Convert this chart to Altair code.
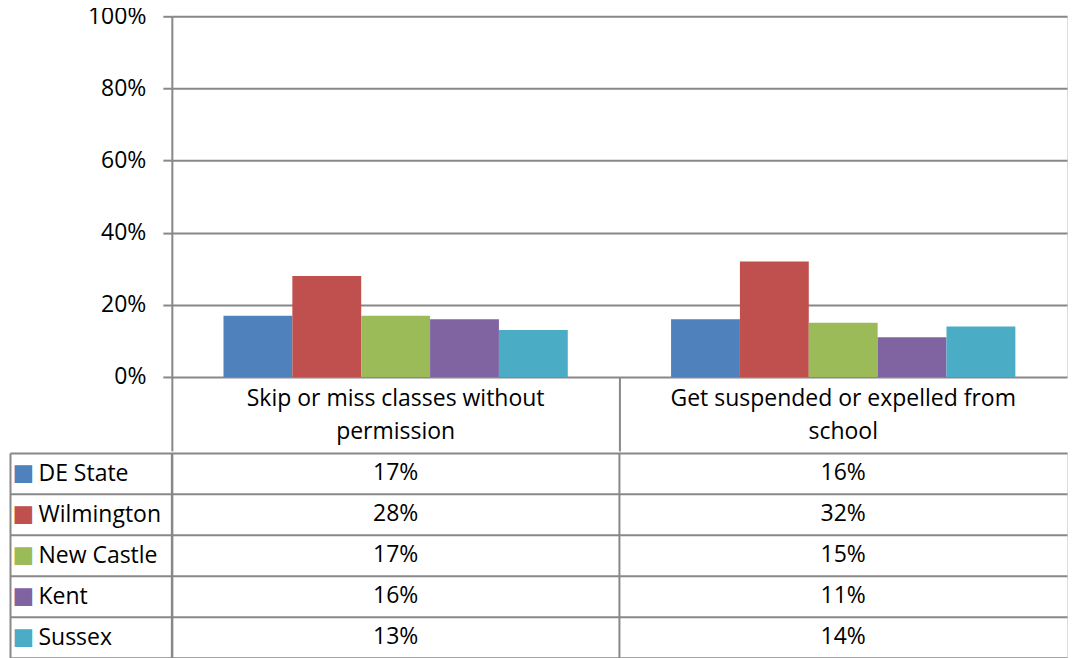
import json
import altair as alt
import pandas as pd

# ---- data ----
categories = ["Skip or miss classes without permission", "Get suspended or expelled from school"]
category_lines = [["Skip or miss classes without", "permission"], ["Get suspended or expelled from", "school"]]
series = ["DE State", "Wilmington", "New Castle", "Kent", "Sussex"]
colors = ["#4F81BD", "#C0504D", "#9BBB59", "#8064A2", "#4BACC6"]
skip_values = [0.17, 0.28, 0.17, 0.16, 0.13]
suspend_values = [0.16, 0.32, 0.15, 0.11, 0.14]
y_ticks = [0, 0.2, 0.4, 0.6, 0.8, 1.0]

rows = []
for cat, vals in zip(categories, [skip_values, suspend_values]):
    for s, v in zip(series, vals):
        rows.append({"category": cat, "series": s, "value": v, "label": f"{round(v * 100)}%"})
df = pd.DataFrame(rows)
cat_df = pd.DataFrame({"category": categories})

# ---- style ----
FONT = "Open Sans"
FS = 23
GRID = "#888888"
LW = 2
W = 896            # plot width (fits the page)
H_TOP = 361
ROW_H = 41
H_TABLE = ROW_H * len(series)
LABEL_H = 74
ROWLABEL_W = 162

def ternary(mapping, default):
    expr = json.dumps(default)
    for k, v in reversed(list(mapping.items())):
        expr = f"datum.value == {json.dumps(k)} ? {json.dumps(v)} : ({expr})"
    return expr

cat_label_expr = ternary(dict(zip(categories, category_lines)), "")
square_color_expr = ternary(dict(zip(series, colors)), "black")

x_scale = alt.Scale(domain=categories, paddingInner=0, paddingOuter=0)

bars = alt.Chart(df).mark_bar().encode(
    x=alt.X("category:N", sort=categories, scale=x_scale,
            axis=alt.Axis(title=None, bandPosition=0, tickSize=LABEL_H, tickColor=GRID, tickWidth=LW,
                          domain=False, labelAngle=0, labelExpr=cat_label_expr,
                          labelPadding=-(LABEL_H - 11),
                          labelBaseline="top", labelLineHeight=33, labelFontSize=FS, labelFont=FONT,
                          labelColor="black", labelLimit=0, labelOverlap=False)),
    xOffset=alt.XOffset("series:N", sort=series,
                        scale=alt.Scale(domain=series, paddingInner=0, paddingOuter=0.75)),
    y=alt.Y("value:Q", scale=alt.Scale(domain=[0, 1], nice=False),
            axis=alt.Axis(title=None, values=y_ticks, format=".0%", grid=True, gridColor=GRID,
                          gridWidth=LW, tickSize=9, tickColor=GRID, tickWidth=LW, domainColor=GRID,
                          domainWidth=LW, labelFontSize=FS, labelFont=FONT, labelColor="black",
                          labelPadding=17)),
    color=alt.Color("series:N", sort=series, scale=alt.Scale(domain=series, range=colors), legend=None),
).properties(width=W, height=H_TOP)

y_table_scale = alt.Scale(domain=series, paddingInner=0, paddingOuter=0)

table_text = alt.Chart(df).mark_text(fontSize=FS, font=FONT, color="black").encode(
    x=alt.X("category:N", sort=categories, scale=x_scale, axis=None),
    y=alt.Y("series:N", sort=series, scale=y_table_scale,
            axis=alt.Axis(title=None, tickBand="extent", grid=True, gridColor=GRID, gridWidth=LW,
                          tickSize=ROWLABEL_W, tickColor=GRID, tickWidth=LW, domainColor=GRID,
                          domainWidth=LW, labelAlign="left", labelBaseline="middle",
                          labelPadding=-(ROWLABEL_W - 134),
                          labelFontSize=FS, labelFont=FONT, labelColor="black", labelLimit=0)),
    text="label:N",
)

table_squares = alt.Chart(df).mark_text(opacity=0).encode(
    y=alt.Y("series:N", sort=series, scale=y_table_scale,
            axis=alt.Axis(title=None, orient="left", offset=ROWLABEL_W, grid=False,
                          ticks=False, domainColor=GRID, domainWidth=LW, labelAlign="left",
                          labelBaseline="middle", labelPadding=-2,
                          labelExpr="'■'", labelFontSize=23, labelFont="DejaVu Sans",
                          labelColor=alt.ExprRef(square_color_expr))),
    text=alt.value(""),
)

table_vlines = alt.Chart(cat_df).mark_rule(color=GRID, strokeWidth=LW).encode(
    x=alt.X("category:N", sort=categories, scale=x_scale, bandPosition=0, axis=None),
)

table = alt.layer(table_vlines, table_text, table_squares).resolve_axis(y="independent").properties(
    width=W, height=H_TABLE)

chart = alt.vconcat(bars, table, spacing=-20).properties(
    padding={"left": 0, "top": -4, "right": 0, "bottom": 0}
).configure_view(stroke=None).configure(font=FONT)

chart.save("out.html", embed_options={"renderer": "svg", "actions": False})
